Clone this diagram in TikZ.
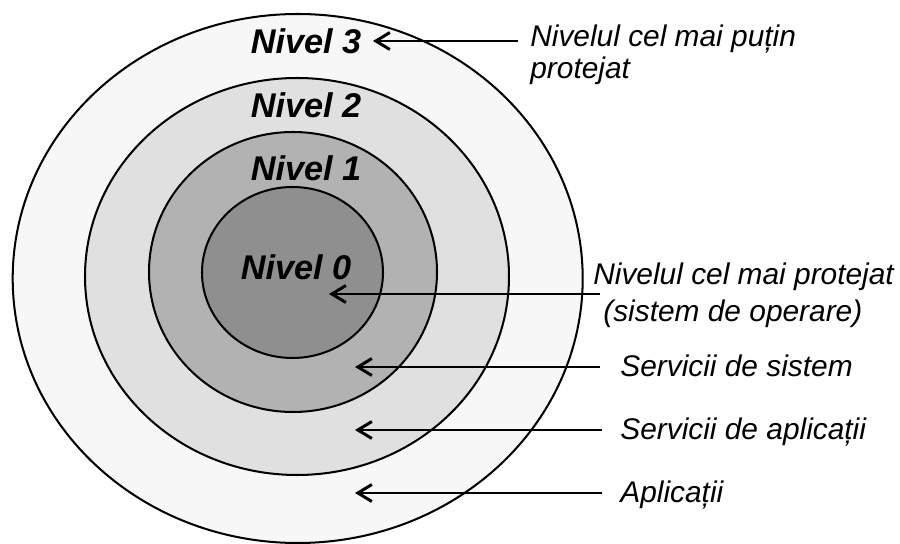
\documentclass[tikz,border=0pt]{standalone}
\usepackage{fontspec}
\setmainfont{Liberation Sans}
\usepackage{xcolor}
\usepackage{tikz}
\usetikzlibrary{calc}
\usetikzlibrary{arrows.meta}
\usetikzlibrary{positioning}

\definecolor{lvlthree}{gray}{0.97}
\definecolor{lvltwo}{gray}{0.88}
\definecolor{lvlone}{gray}{0.70}
\definecolor{lvlzero}{gray}{0.56}

\tikzset{
	ring/.style={draw=black, line width=1.15pt},
	lvl/.style={font=\fontsize{19.5}{22}\selectfont\bfseries\itshape, inner sep=0pt},
	lbl/.style={font=\fontsize{17}{19}\selectfont\itshape, inner sep=0pt, anchor=base west},
	arr/.style={-{Straight Barb[length=2.8mm,width=3.4mm,line width=1.7pt]}, line width=1.1pt}
}

\begin{document}
\begin{tikzpicture}[scale=1]

	\useasboundingbox (0,0) rectangle (18,10.88);

	\draw [ring, fill=lvlthree] (5.954,5.31) ellipse [x radius=5.70, y radius=5.29];

	\draw [ring, fill=lvltwo] (5.94,5.35) ellipse [x radius=4.24, y radius=3.97];

	\draw [ring, fill=lvlone] (5.86,5.44) ellipse [x radius=2.88, y radius=2.80];

	\draw [ring, fill=lvlzero] (5.85,5.43) ellipse [x radius=1.81, y radius=1.71];

	\node [lvl] (lvl3) at (6.12,10.05) {Nivel 3};

	\node [lvl] (lvl2) at (6.12,8.78) {Nivel 2};

	\node [lvl] (lvl1) at (6.12,7.51) {Nivel 1};

	\node [lvl] (lvl0) at (5.92,5.54) {Nivel 0};

	\coordinate (ptop) at (7.46,10.06);
	\coordinate (pzero) at (6.58,5.00);
	\coordinate (psist) at (7.10,3.54);
	\coordinate (pserv) at (7.10,2.28);
	\coordinate (papl) at (7.10,1.02);

	\node [lbl] (leasta) at (10.60,9.94) {Nivelul cel mai puțin};
	\node [lbl] (leastb) at (10.60,9.30) {protejat};

	\node [lbl] (mosta) at (11.86,5.18) {Nivelul cel mai protejat};
	\node [lbl] (mostb) at (12.06,4.44) {(sistem de operare)};

	\node [lbl] (sist) at (12.40,3.34) {Servicii de sistem};

	\node [lbl] (serv) at (12.40,2.08) {Servicii de aplicații};

	\node [lbl] (apl) at (12.40,0.82) {Aplicații};

	\draw [arr] ($(leasta.west |- ptop)+(-0.24,0)$) -- (ptop);

	\draw [arr] ($(mosta.west |- pzero)+(0.14,0)$) -- (pzero);

	\draw [arr] ($(sist.west |- psist)+(-0.40,0)$) -- (psist);

	\draw [arr] ($(serv.west |- pserv)+(-0.36,0)$) -- (pserv);

	\draw [arr] ($(apl.west |- papl)+(-0.36,0)$) -- (papl);

\end{tikzpicture}
\end{document}
